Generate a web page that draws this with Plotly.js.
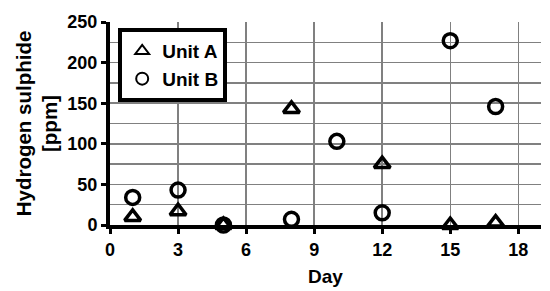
<!DOCTYPE html>
<html><head><meta charset="utf-8">
<script src="https://cdn.plot.ly/plotly-3.0.1.min.js"></script>
<style>html,body{margin:0;padding:0;background:#fff}#chart{width:550px;height:291px}</style>
</head><body><div id="chart"></div>
<script>
const days = [1, 3, 5, 8, 10, 12, 15, 17];
const unitA = [10, 17, 0, 143, -1, 75, 0, 3];
const unitB = [34, 43, 0, 7, 103, 15, 227, 146];
const xTicks = [0, 3, 6, 9, 12, 15, 18];
const yTicks = [0, 50, 100, 150, 200, 250];

const fam = 'Arial, "Liberation Sans", sans-serif';
const tickFnt = {family: fam, size: 18, color: '#000', weight: 'bold'};
const xTitleFnt = {family: fam, size: 19, color: '#000', weight: 'bold'};
const yTitleFnt = {family: fam, size: 20.5, color: '#000', weight: 'bold'};
const legFnt = {family: fam, size: 19, color: '#000', weight: 'bold'};
const traces = [
  {x: days, y: unitA, name: 'Unit A', type: 'scatter', mode: 'markers', cliponaxis: false,
   marker: {symbol: 'triangle-up-open', size: 14, color: '#000', line: {width: 3.5, color: '#000'}}},
  {x: days, y: unitB, name: 'Unit B', type: 'scatter', mode: 'markers', cliponaxis: false,
   marker: {symbol: 'circle-open', size: 14, color: '#000', line: {width: 3.5, color: '#000'}}}
];
const layout = {
  width: 550, height: 291,
  margin: {l: 110, r: 9, t: 22, b: 66},
  paper_bgcolor: '#fff', plot_bgcolor: '#fff',
  font: tickFnt,
  showlegend: true,
  legend: {x: 0.019, y: 0.97, xanchor: 'left', yanchor: 'top', bgcolor: '#fff',
    bordercolor: '#000', borderwidth: 4, font: legFnt, entrywidth: 108, itemsizing: 'constant'},
  xaxis: {range: [0, 19], tickvals: xTicks, ticktext: xTicks.map(String),
    showgrid: true, gridcolor: '#808080', gridwidth: 1.5, zeroline: false,
    showline: true, linecolor: '#000', linewidth: 4,
    ticks: 'outside', ticklen: 5, tickwidth: 3, tickcolor: '#000',
    tickfont: tickFnt, title: {text: 'Day', font: xTitleFnt, standoff: 12}},
  yaxis: {range: [0, 250], tickvals: yTicks, ticktext: yTicks.map(String),
    showgrid: true, gridcolor: '#808080', gridwidth: 1.5, zeroline: false,
    showline: true, linecolor: '#000', linewidth: 4,
    ticks: 'outside', ticklen: 5, tickwidth: 3, tickcolor: '#000',
    minor: {dtick: 25, showgrid: true, gridcolor: '#808080', gridwidth: 1.5, ticks: ''},
    tickfont: tickFnt, title: {text: 'Hydrogen sulphide<br>[ppm]', font: yTitleFnt, standoff: 5}}
};
Plotly.newPlot('chart', traces, layout, {displayModeBar: false, staticPlot: true});
</script></body></html>
